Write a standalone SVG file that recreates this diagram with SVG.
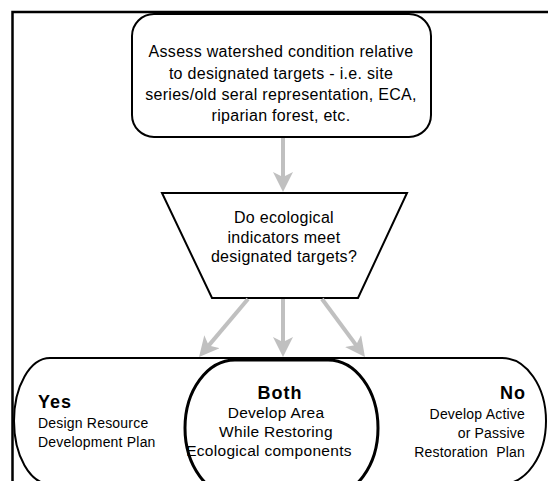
<svg xmlns="http://www.w3.org/2000/svg" width="548" height="481" viewBox="0 0 548 481">
<defs>
<style>
.t{font-family:"Liberation Sans",Arial,sans-serif;fill:#000}
.top{font-size:16px;letter-spacing:0.3px}
.body{font-size:14px;letter-spacing:0.2px}
.mid{font-size:15.5px;letter-spacing:0.3px}
.hd{font-size:18px;font-weight:bold;letter-spacing:1px}
.shape{fill:#fff;stroke:#000;stroke-width:2}
.conn{fill:none;stroke:#c0c0c0;stroke-width:4;marker-end:url(#ah)}
</style>
<marker id="ah" markerUnits="userSpaceOnUse" viewBox="0 0 20 20" markerWidth="20" markerHeight="20" refX="12" refY="10" orient="auto">
<path d="M0,0 L20,10 L0,20 L5,10 Z" fill="#c0c0c0"/>
</marker>
</defs>
<rect width="548" height="481" fill="#fff"/>
<g id="frame" fill="none" stroke="#000" stroke-width="2.5">
<path d="M12.5,481 V12 H548"/>
</g>
<g id="outcomes">
<path class="shape" d="M50,358 L502,358 A44,63 0 0 1 502,484 L50,484 A36,63 0 0 1 50,358 Z"/>
</g>
<g id="assess">
<rect class="shape" x="132" y="14" width="299" height="123" rx="22" ry="22"/>
<text class="t top" text-anchor="middle" x="281" y="57">Assess watershed condition relative</text>
<text class="t top" text-anchor="middle" x="281" y="79">to designated targets - i.e. site</text>
<text class="t top" text-anchor="middle" x="281" y="100">series/old seral representation, ECA,</text>
<text class="t top" text-anchor="middle" x="281" y="121">riparian forest, etc.</text>
</g>
<g id="decision">
<polygon class="shape" points="162,193 407,193 358,298 212,298"/>
<text class="t top" text-anchor="middle" x="284" y="223">Do ecological</text>
<text class="t top" text-anchor="middle" x="284" y="243">indicators meet</text>
<text class="t top" text-anchor="middle" x="284" y="262">designated targets?</text>
</g>
<g id="yes">
<text class="t hd" x="38" y="408">Yes</text>
<text class="t body" x="38" y="428">Design Resource</text>
<text class="t body" x="38" y="447">Development Plan</text>
</g>
<g id="both">
<rect x="185" y="360" width="193" height="136" rx="50" ry="68" fill="#fff" stroke="#000" stroke-width="3"/>
<text class="t hd" text-anchor="middle" x="280" y="399">Both</text>
<text class="t mid" text-anchor="middle" x="276" y="418">Develop Area</text>
<text class="t mid" text-anchor="middle" x="276" y="437">While Restoring</text>
<text class="t mid" text-anchor="middle" x="269" y="456">Ecological components</text>
</g>
<g id="no">
<text class="t hd" text-anchor="end" x="526" y="399">No</text>
<text class="t body" text-anchor="end" x="525" y="419">Develop Active</text>
<text class="t body" text-anchor="end" x="525" y="438">or Passive</text>
<text class="t body" text-anchor="end" x="525" y="457" xml:space="preserve">Restoration  Plan</text>
</g>
<g id="connectors">
<path class="conn" d="M283,138 L283,184"/>
<path class="conn" d="M248,299 L204.2,350.9"/>
<path class="conn" d="M283,299 L283,349"/>
<path class="conn" d="M322,299 L360.2,350.6"/>
</g>
</svg>
